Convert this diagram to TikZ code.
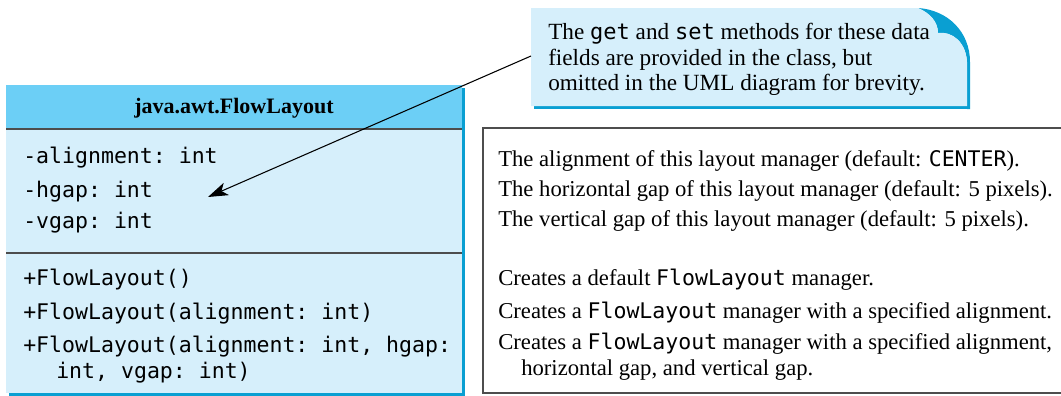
\documentclass[tikz,border=0pt]{standalone}
\usepackage{fontspec}
\setmainfont{Liberation Serif}
\setmonofont{DejaVu Sans Mono}[Scale=0.95]
\usepackage{xcolor}
\usepackage{tikz}
\usetikzlibrary{arrows.meta}
\definecolor{headblue}{HTML}{6CCFF6}
\definecolor{bodyblue}{HTML}{D6EFFB}
\definecolor{shadeblue}{HTML}{0A9FD2}
\definecolor{linegray}{HTML}{4D4D4D}

\begin{document}
\begin{tikzpicture}[
    x=0.75pt, y=-0.75pt,
    >={Stealth[length=15pt, width=10pt, inset=4pt]},
    member/.style={anchor=base west, inner sep=0pt, font=\fontsize{17}{20}\selectfont\ttfamily},
    desc/.style={anchor=base west, inner sep=0pt, font=\fontsize{17}{20}\selectfont},
    notetext/.style={desc, font=\fontsize{17.4}{20}\selectfont},
    sepline/.style={draw=linegray, line width=1.5pt},
]
    \useasboundingbox (0,0) rectangle (1061,396);

    % Class box
    \fill[shadeblue] (9,88) rectangle (465,396);
    \fill[headblue] (6,85) rectangle (462,129);
    \fill[bodyblue] (6,129) rectangle (462,393);
    \draw[sepline] (6,129) -- (462,129);
    \draw[sepline] (6,253) -- (462,253);
    \node[anchor=base, inner sep=0pt, font=\fontsize{16.5}{20}\selectfont\bfseries] (cname) at (234,113) {java.awt.FlowLayout};

    % Data fields
    \node[member] (f1) at (23,163) {-alignment: int};
    \node[member] (f2) at (23,197) {-hgap: int};
    \node[member] (f3) at (23,228) {-vgap: int};

    % Constructors
    \node[member] (m1) at (23,285) {+FlowLayout()};
    \node[member] (m2) at (23,319) {+FlowLayout(alignment: int)};
    \node[member] (m3) at (23,352) {+FlowLayout(alignment: int, hgap:};
    \node[member] (m3b) at (56,378) {int, vgap: int)};

    % Description box
    \draw[linegray, line width=1pt] (483,128) rectangle (1075,393);
    \node[desc] (d1) at (498,166) {The alignment of this layout manager (default: \texttt{CENTER}).};
    \node[desc] (d2) at (498,196) {The horizontal gap of this layout manager (default: 5 pixels).};
    \node[desc] (d3) at (498,226) {The vertical gap of this layout manager (default: 5 pixels).};
    \node[desc] (d4) at (498,285) {Creates a default \texttt{FlowLayout} manager.};
    \node[desc] (d5) at (498,318) {Creates a \texttt{FlowLayout} manager with a specified alignment.};
    \node[desc] (d6) at (498,349) {Creates a \texttt{FlowLayout} manager with a specified alignment,};
    \node[desc] (d6b) at (521,375) {horizontal gap, and vertical gap.};

    % Note with curled corner
    \fill[shadeblue] (534,106) rectangle (970,109);
    \fill[shadeblue] (918,8) .. controls (948,10) and (970,32) .. (970,62) -- (970,109) -- (967,109)
        -- (967,62) .. controls (966,42) and (952,31) .. (938,33)
        .. controls (938,22) and (930,13) .. (918,8) -- cycle;
    \fill[bodyblue] (531,8) -- (918,8) .. controls (930,13) and (938,22) .. (938,33)
        .. controls (952,31) and (966,42) .. (967,62) -- (967,106) -- (531,106) -- cycle;
    \node[notetext] (n1) at (548,40) {The \texttt{get} and \texttt{set} methods for these data};
    \node[notetext] (n2) at (548,65) {fields are provided in the class, but};
    \node[notetext] (n3) at (548,90) {omitted in the UML diagram for brevity.};

    % Pointer to the data fields
    \coordinate (notetail) at (531,56);
    \coordinate (fieldtip) at (208,197);
    \draw[->, line width=0.8pt] (notetail) -- (fieldtip);
\end{tikzpicture}
\end{document}
